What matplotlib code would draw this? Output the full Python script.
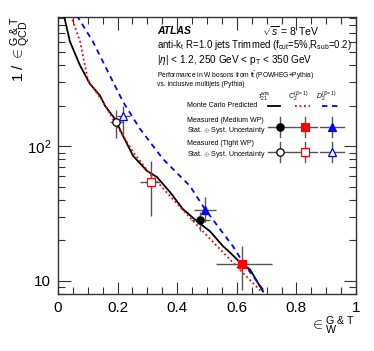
import numpy as np
import matplotlib
matplotlib.use("Agg")
import matplotlib.pyplot as plt
from matplotlib.ticker import LogLocator, NullFormatter, FixedLocator, FixedFormatter

plt.rcParams['font.family'] = ['Liberation Sans', 'DejaVu Sans']
plt.rcParams['mathtext.fontset'] = 'custom'
plt.rcParams['mathtext.rm'] = 'Liberation Sans'
plt.rcParams['mathtext.it'] = 'Liberation Sans:italic'
plt.rcParams['mathtext.bf'] = 'Liberation Sans:bold'

#### data ---------------------------------------

# Monte Carlo predicted curves (signal eff, 1/bkg eff)
tau_x = [0.020, 0.040, 0.074, 0.107, 0.141, 0.158, 0.191, 0.218, 0.252, 0.299,
         0.332, 0.376, 0.419, 0.466, 0.510, 0.554, 0.577, 0.611, 0.644, 0.688]
tau_y = [940, 602, 399, 292, 238, 200, 160, 120, 85, 65.6,
         59.2, 45.7, 34.2, 27.8, 23.4, 18.1, 16.3, 13.7, 12.2, 8.35]

c2_x = [0.043, 0.074, 0.101, 0.151, 0.198, 0.252, 0.309, 0.376, 0.443, 0.534, 0.587, 0.685]
c2_y = [940, 602, 308, 215, 142, 91, 62.4, 42.7, 29.5, 18.1, 13.7, 8.2]

d2_x = [0.063, 0.117, 0.174, 0.218, 0.275, 0.352, 0.443, 0.493, 0.544, 0.587, 0.621, 0.695]
d2_y = [940, 602, 336, 215, 135, 80.7, 50.7, 34.2, 24.2, 18.1, 13.7, 8.2]

# measured points: x, y, x-err low/high, y low/high
med_tau = dict(x=0.477, y=28.3, xlo=0.446, xhi=0.510, ylo=23.4, yhi=32.4)
med_c2 = dict(x=0.618, y=13.3, xlo=0.529, xhi=0.718, ylo=8.5, yhi=18.2)
med_d2 = dict(x=0.493, y=33.6, xlo=0.456, xhi=0.530, ylo=27.4, yhi=42.0)

tight_tau = dict(x=0.195, y=151, xlo=0.174, xhi=0.218, ylo=116, yhi=185)
tight_c2 = dict(x=0.312, y=54, xlo=0.275, xhi=0.342, ylo=30.2, yhi=77.5)
tight_d2 = dict(x=0.217, y=168, xlo=0.197, xhi=0.242, ylo=124, yhi=201)

x_ticks = [0, 0.2, 0.4, 0.6, 0.8, 1.0]
x_ticklabels = ['0', '0.2', '0.4', '0.6', '0.8', '1']
x_minor = [i * 0.05 for i in range(21)]

#### plot ---------------------------------------

fig = plt.figure(figsize=(3.74, 3.51), dpi=100)
ax = fig.add_axes([0.155, 0.1624, 0.797, 0.7892])

ax.plot(tau_x, tau_y, color='black', lw=1.3, zorder=3)
ax.plot(c2_x, c2_y, color='red', lw=1.3, ls=(0, (1, 1.5)), zorder=3)
ax.plot(d2_x, d2_y, color='blue', lw=1.3, ls=(0, (3, 2.5)), zorder=3)


def draw_point(p, color, marker, filled):
    ax.errorbar(p['x'], p['y'],
                xerr=[[p['x'] - p['xlo']], [p['xhi'] - p['x']]],
                yerr=[[p['y'] - p['ylo']], [p['yhi'] - p['y']]],
                fmt='none', ecolor='#555555', elinewidth=1.0, capsize=0, zorder=4)
    ax.plot(p['x'], p['y'], marker=marker, ms=5.3 if marker != '^' else 5.8,
            color=color, mfc=color if filled else 'white', mec=color,
            mew=0.9, ls='none', zorder=5)


draw_point(med_tau, 'black', 'o', True)
draw_point(med_c2, 'red', 's', True)
draw_point(med_d2, 'blue', '^', True)
draw_point(tight_tau, 'black', 'o', False)
draw_point(tight_c2, 'red', 's', False)
draw_point(tight_d2, 'blue', '^', False)

# annotation block (positions in axes fraction)
T = ax.transAxes
def fx(px):
    return (px - 58) / 298.0
def fy(py):
    return (294 - py) / 277.0

ax.text(fx(157), fy(31), 'ATLAS', transform=T, fontsize=7.5, fontweight='bold',
        style='italic', va='center')
ax.text(fx(262), fy(31), r'$\sqrt{s}$ = 8 TeV', transform=T, fontsize=7.5, va='center')
ax.text(fx(157), fy(45), r'anti-k$_{\rm t}$ R=1.0 jets Trimmed (f$_{\rm cut}$=5%,R$_{\rm sub}$=0.2)',
        transform=T, fontsize=6.9, va='center')
ax.text(fx(157), fy(60), r'|$\eta$| < 1.2, 250 GeV < p$_{\rm T}$ < 350 GeV',
        transform=T, fontsize=7.2, va='center')
ax.text(fx(157), fy(76), r'Performance in W bosons from t$\bar{\rm t}$ (POWHEG+Pythia)',
        transform=T, fontsize=4.8, va='center')
ax.text(fx(157), fy(85), 'vs. inclusive multijets (Pythia)',
        transform=T, fontsize=4.8, va='center')

ax.text(fx(264), fy(97), r'$\tau_{21}^{\rm wta}$', transform=T, fontsize=5, ha='center', va='center')
ax.text(fx(298), fy(97), r'$C_{2}^{(\beta=1)}$', transform=T, fontsize=5, ha='center', va='center')
ax.text(fx(326), fy(97), r'$D_{2}^{(\beta=1)}$', transform=T, fontsize=5, ha='center', va='center')

ax.text(fx(187), fy(106), 'Monte Carlo Predicted', transform=T, fontsize=5, va='center')
ax.text(fx(187), fy(121), 'Measured (Medium WP)', transform=T, fontsize=5, va='center')
ax.text(fx(187), fy(131), r'Stat. $\oplus$ Syst. Uncertainty', transform=T, fontsize=5, va='center')
ax.text(fx(187), fy(144), 'Measured (Tight WP)', transform=T, fontsize=5, va='center')
ax.text(fx(187), fy(155), r'Stat. $\oplus$ Syst. Uncertainty', transform=T, fontsize=5, va='center')

# legend samples
ax.plot([fx(268), fx(280)], [fy(106)] * 2, transform=T, color='black', lw=1.3, clip_on=False)
ax.plot([fx(295), fx(310)], [fy(106)] * 2, transform=T, color='red', lw=1.3,
        ls=(0, (1, 1.5)), clip_on=False)
ax.plot([fx(322), fx(340)], [fy(106)] * 2, transform=T, color='blue', lw=1.3,
        ls=(0, (3, 2.5)), clip_on=False)

for cx, col, mk in [(280, 'black', 'o'), (305, 'red', 's'), (332, 'blue', '^')]:
    for cy, filled in [(127, True), (152, False)]:
        ax.plot([fx(cx - 12), fx(cx + 12)], [fy(cy)] * 2, transform=T, color='#555555', lw=1.0)
        ax.plot([fx(cx)] * 2, [fy(cy - 10), fy(cy + 10)], transform=T, color='#555555', lw=1.0)
        ax.plot(fx(cx), fy(cy), transform=T, marker=mk, ms=5.3, color=col,
                mfc=col if filled else 'white', mec=col, mew=0.9, ls='none')

# axes set up last, so the legend samples do not move the limits
ax.set_yscale('log')
ax.set_xlim(0, 1)
ax.set_ylim(8.0, 915)

ax.xaxis.set_major_locator(FixedLocator(x_ticks))
ax.xaxis.set_major_formatter(FixedFormatter(x_ticklabels))
ax.xaxis.set_minor_locator(FixedLocator(x_minor))
ax.yaxis.set_major_locator(FixedLocator([10, 100]))
ax.yaxis.set_major_formatter(FixedFormatter(['10', '$10^2$']))
ax.yaxis.set_minor_locator(LogLocator(base=10, subs=np.arange(2, 10)))
ax.yaxis.set_minor_formatter(NullFormatter())

ax.tick_params(which='both', direction='in', top=True, right=True, labelsize=11,
               color='#333333', pad=5)
ax.tick_params(which='major', length=9, width=0.8)
ax.tick_params(which='minor', length=5, width=0.8)
for s in ax.spines.values():
    s.set_linewidth(1.0)
    s.set_color('#333333')

fig.text(0.055, 0.955, r'1 / $\in^{\rm G\ &\ T}_{\rm QCD}$', rotation=90,
         ha='center', va='top', fontsize=11)
fig.text(0.95, 0.04, r'$\in^{\rm G\ &\ T}_{\rm W}$', ha='right', va='bottom',
         fontsize=11)

fig.savefig('out.png', dpi=100)
